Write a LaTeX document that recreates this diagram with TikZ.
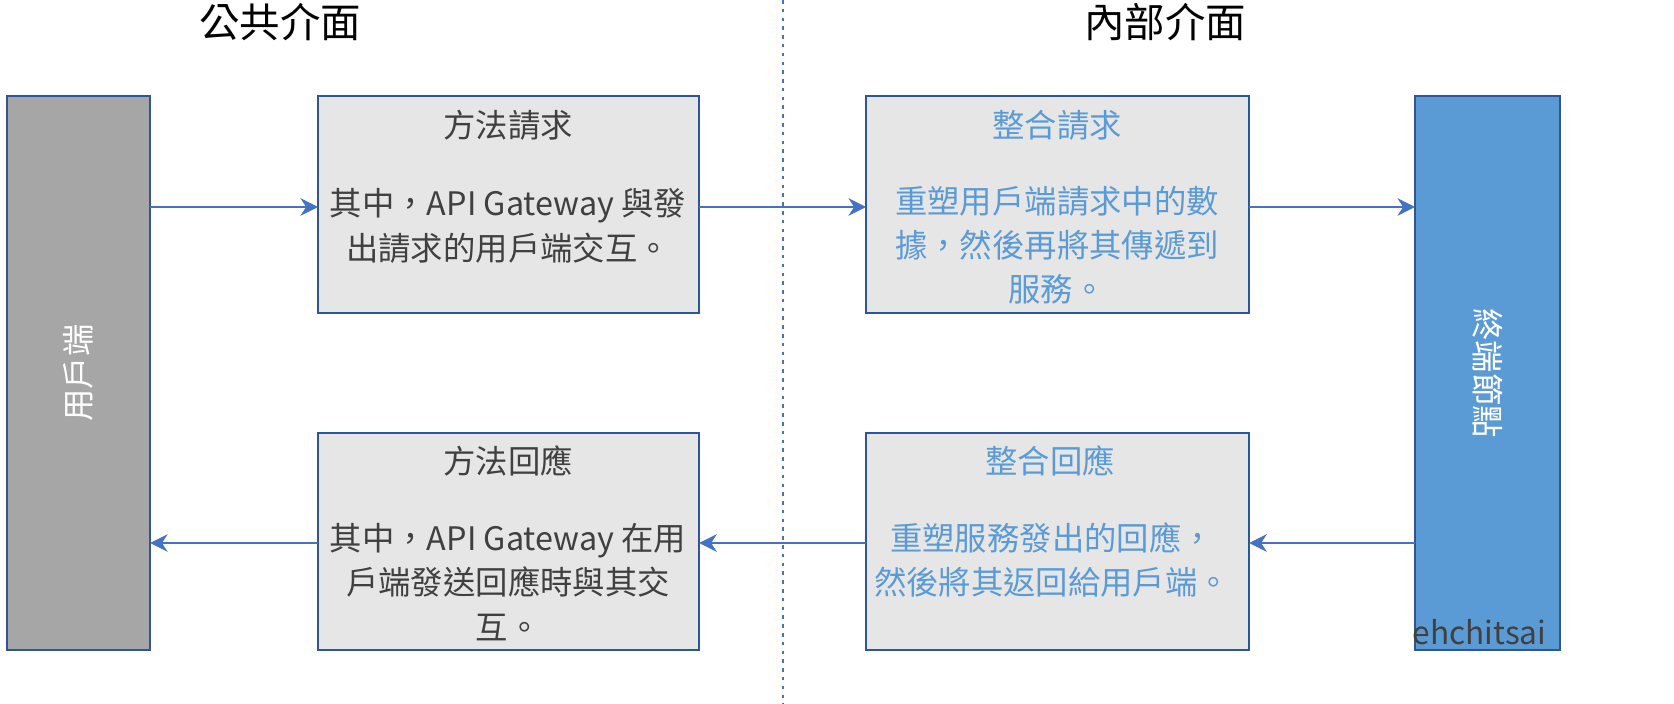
\documentclass[tikz,border=0pt]{standalone}
\usepackage{fontspec}
\setmainfont{Noto Sans CJK TC}
\usetikzlibrary{arrows.meta}
\begin{document}
\begin{tikzpicture}[x=0.01cm,y=-0.01cm,
  box/.style={draw=bordc,fill=boxg,line width=0.6pt,anchor=north west,inner sep=0pt,outer sep=0pt},
  arr/.style={-{Stealth[length=5pt,width=5pt]},draw=arrc,line width=0.4pt},
  txt/.style={font=\fontsize{9.2pt}{12.6pt}\selectfont,align=center}]
\definecolor{bordc}{HTML}{2F5597}
\definecolor{arrc}{HTML}{4472C4}
\definecolor{boxg}{HTML}{E7E6E6}
\definecolor{lb}{HTML}{5B9BD5}
\definecolor{dg}{HTML}{404040}
\useasboundingbox (0,0) rectangle (1674,704);
\node[font=\fontsize{11.5pt}{13pt}\selectfont] (t1) at (280,22) {公共介面};
\node[font=\fontsize{11.5pt}{13pt}\selectfont] (t2) at (1165,22) {內部介面};
\coordinate (dtop) at (783,0); \coordinate (dbot) at (783,704);
\draw[arrc,dash pattern=on 1pt off 1.5pt,line width=0.4pt] (dtop) -- (dbot);
\node[box,fill=gray!70,minimum width=1.43cm,minimum height=5.54cm] (L) at (7,96) {};
\node[box,fill=lb,minimum width=1.45cm,minimum height=5.54cm] (R) at (1415,96) {};
\node[box,minimum width=3.81cm,minimum height=2.17cm] (b1) at (318,96) {};
\node[box,minimum width=3.83cm,minimum height=2.17cm] (b2) at (866,96) {};
\node[box,minimum width=3.81cm,minimum height=2.17cm] (b3) at (318,433) {};
\node[box,minimum width=3.83cm,minimum height=2.17cm] (b4) at (866,433) {};
\node[txt,white,rotate=90] (lt) at (L.center) {用戶端};
\node[txt,white,rotate=-90] (rt) at (R.center) {終端節點};
\node[txt,dg] (b1t) at (508,125) {方法請求};
\node[txt,dg] (b1b) at (508,226) {其中，API Gateway 與發\\出請求的用戶端交互。};
\node[txt,lb] (b2t) at (1057,125) {整合請求};
\node[txt,lb] (b2b) at (1057,245) {重塑用戶端請求中的數\\據，然後再將其傳遞到\\服務。};
\node[txt,dg] (b3t) at (508,461) {方法回應};
\node[txt,dg] (b3b) at (508,582) {其中，API Gateway 在用\\戶端發送回應時與其交\\互。};
\node[txt,lb] (b4t) at (1050,461) {整合回應};
\node[txt,lb] (b4b) at (1052,560) {重塑服務發出的回應，\\然後將其返回給用戶端。};
\node[font=\fontsize{9pt}{10pt}\selectfont,dg,anchor=west,inner sep=0pt] (wm) at (1412,632) {ehchitsai};
\coordinate (y1) at (0,207); \coordinate (y2) at (0,543);
\draw[arr] (L.east |- y1) -- (b1.west |- y1);
\draw[arr] (b1.east |- y1) -- (b2.west |- y1);
\draw[arr] (b2.east |- y1) -- (R.west |- y1);
\draw[arr] (R.west |- y2) -- (b4.east |- y2);
\draw[arr] (b4.west |- y2) -- (b3.east |- y2);
\draw[arr] (b3.west |- y2) -- (L.east |- y2);
\end{tikzpicture}
\end{document}
